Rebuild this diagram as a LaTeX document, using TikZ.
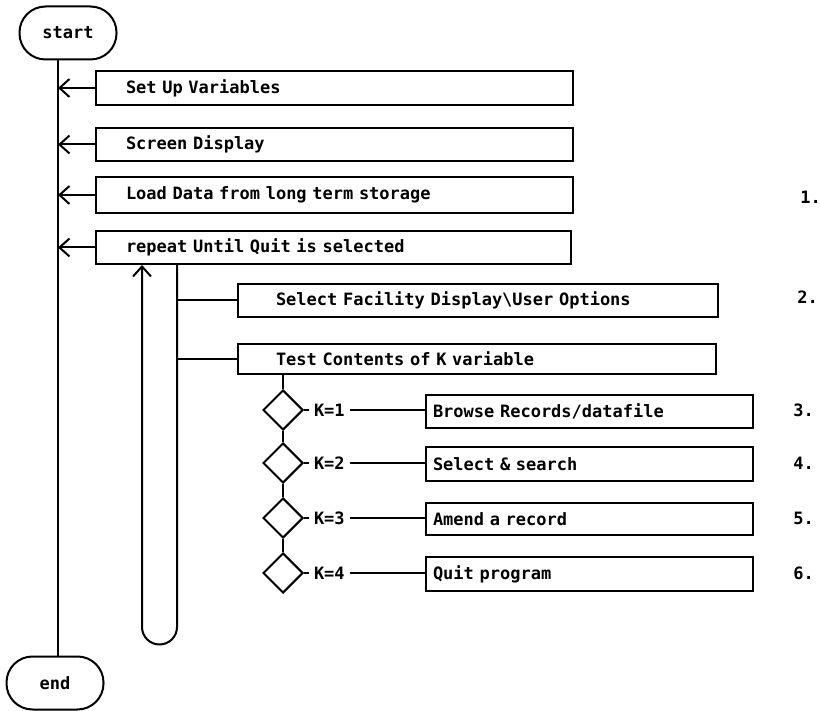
\documentclass[tikz,border=0pt]{standalone}
\usepackage{fontspec}
\newfontfamily\dmono{DejaVu Sans Mono}
\usetikzlibrary{arrows.meta,shapes.geometric,calc}
\begin{document}
\begin{tikzpicture}[x=1pt,y=-1pt,line width=2pt,
  txt/.style={font=\dmono\bfseries\fontsize{17}{20}\selectfont},
  box/.style={draw,rectangle,anchor=north west,align=left,txt,inner ysep=0pt},
  term/.style={draw,rounded corners=26pt,minimum width=97pt,minimum height=53pt,txt},
  dia/.style={draw,diamond,minimum width=40pt,minimum height=40pt,inner sep=0pt},
  arr/.style={-{Straight Barb[length=10pt,width=18pt,line width=2pt]}},
  klab/.style={txt,anchor=west,inner sep=4pt},
  num/.style={txt,anchor=west}]
\useasboundingbox (0,0) rectangle (820,711);

% terminals
\node[term] (start) at (68,33) {start};
\node[term] (end) at (55,683) {end};
\coordinate (mx) at (58,0);
\draw (start.south -| mx) -- (end.north -| mx);

% top-level boxes
\node[box,text width=417pt,inner xsep=30pt,minimum height=34pt] (b1) at (95,70) {Set Up Variables};
\node[box,text width=417pt,inner xsep=30pt,minimum height=33pt] (b2) at (95,127) {Screen Display};
\node[box,text width=417pt,inner xsep=30pt,minimum height=36pt] (b3) at (95,176) {Load Data from long term storage};
\node[box,text width=415pt,inner xsep=30pt,minimum height=33pt] (rep) at (95,230) {repeat Until Quit is selected};
\foreach \b in {b1,b2,b3,rep}{\draw[arr] (\b.west) -- (\b.west -| mx);}

% loop
\coordinate (lr) at (177,0);
\coordinate (ll) at (142,0);
\draw[arr] (rep.south -| lr) -- (177,627) arc[start angle=0,end angle=180,radius=17.5] -- (rep.south -| ll);

\node[box,text width=404pt,inner xsep=38pt,minimum height=33pt] (sel) at (237,283) {Select Facility Display\textbackslash User Options};
\node[box,text width=402pt,inner xsep=38pt,minimum height=30pt] (tst) at (237,343) {Test Contents of K variable};
\draw (sel.west -| lr) -- (sel.west);
\draw (tst.west -| lr) -- (tst.west);

% case diamonds
\node[dia] (d1) at (283,410) {};
\node[dia] (d2) at (283,463) {};
\node[dia] (d3) at (283,518) {};
\node[dia] (d4) at (283,573) {};
\draw (tst.south -| d1) -- (d1.north);
\draw (d1.south) -- (d2.north);
\draw (d2.south) -- (d3.north);
\draw (d3.south) -- (d4.north);

\node[box,text width=313pt,inner xsep=7pt,minimum height=33pt] (r1) at (425,394) {Browse Records/datafile};
\node[box,text width=313pt,inner xsep=7pt,minimum height=34pt] (r2) at (425,446) {Select \& search};
\node[box,text width=313pt,inner xsep=7pt,minimum height=32pt] (r3) at (425,502) {Amend a record};
\node[box,text width=313pt,inner xsep=7pt,minimum height=34pt] (r4) at (425,556) {Quit program};

\node[klab] (k1) at (309,410) {K=1};
\node[klab] (k2) at (309,463) {K=2};
\node[klab] (k3) at (309,518) {K=3};
\node[klab] (k4) at (309,573) {K=4};
\foreach \i in {1,2,3,4}{
  \draw (d\i.east) -- (k\i.west);
  \draw (k\i.east) -- (r\i.west |- k\i.east);
}

% numbers
\node[num] (n1) at (796,197) {1.};
\node[num] (n2) at (793,297) {2.};
\node[num] (n3) at (789,410) {3.};
\node[num] (n4) at (789,463) {4.};
\node[num] (n5) at (789,518) {5.};
\node[num] (n6) at (789,573) {6.};
\end{tikzpicture}
\end{document}
